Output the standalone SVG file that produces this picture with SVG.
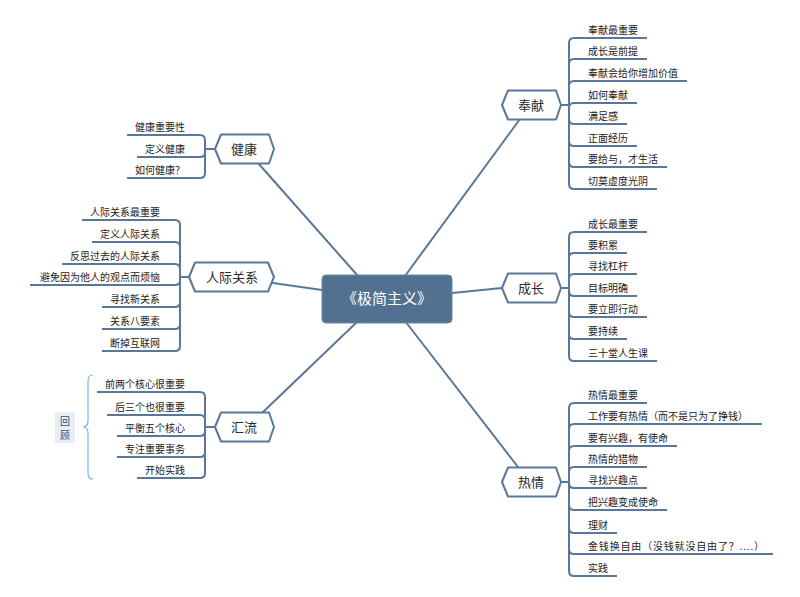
<svg xmlns="http://www.w3.org/2000/svg" width="800" height="597" viewBox="0 0 800 597">
<style>
.bg{fill:#ffffff}
.main{stroke:#58779A;stroke-width:2;fill:none;stroke-linecap:round}
.sub{stroke:#58779A;stroke-width:2;fill:none;stroke-linejoin:round}
.hex{fill:#ffffff;stroke:#58779A;stroke-width:2;stroke-linejoin:round}
.center{fill:#52708F;stroke:#6B87A6;stroke-width:1}
.ct{font-family:"Noto Sans CJK SC","Noto Sans",sans-serif;font-size:15px;fill:#ffffff;text-anchor:middle}
.nt{font-family:"Noto Sans CJK SC","Noto Sans",sans-serif;font-size:13px;fill:#2b2b2b;text-anchor:middle}
.lt{font-family:"Noto Sans CJK SC","Noto Sans",sans-serif;font-size:10px;fill:#222222}
.le{text-anchor:end}
.brace{stroke:#7DB3E6;stroke-width:1.2;fill:none}
.note{fill:#E6EEF7}
.notet{font-family:"Noto Sans CJK SC","Noto Sans",sans-serif;font-size:10px;fill:#2F4F7A;text-anchor:middle}
</style>
<rect class="bg" x="0" y="0" width="800" height="597"/>

<g id="connectors">
  <line class="main" x1="405" y1="276" x2="520" y2="119"/>
  <line class="main" x1="452" y1="293" x2="502" y2="288"/>
  <line class="main" x1="405" y1="321" x2="518" y2="467"/>
  <line class="main" x1="358" y1="276" x2="258" y2="163"/>
  <line class="main" x1="322" y1="290" x2="273" y2="283"/>
  <line class="main" x1="358" y1="321" x2="262" y2="413"/>
</g>

<g id="center">
  <rect class="center" x="322" y="275" width="130" height="48" rx="4"/>
  <text class="ct" x="387" y="304">《极简主义》</text>
</g>

<!-- 奉献 -->
<g id="node-fengxian">
  <polygon class="hex" points="502,105 508,90.5 556,90.5 561,105 556,119.5 508,119.5"/>
  <text class="nt" x="531" y="110">奉献</text>
  <path class="sub" d="M561,105 H569 M569,105 V43 Q569,38 574,38 H647 M569,105 V64 Q569,59 574,59 H647 M569,105 V86 Q569,81 574,81 H687 M569,105 V108 Q569,103 574,103 H637 M569,105 V119 Q569,124 574,124 H627 M569,105 V141 Q569,146 574,146 H637 M569,105 V162 Q569,167 574,167 H667 M569,105 V184 Q569,189 574,189 H657"/>
  <text class="lt" x="588" y="34">奉献最重要</text>
  <text class="lt" x="588" y="55">成长是前提</text>
  <text class="lt" x="588" y="77">奉献会给你增加价值</text>
  <text class="lt" x="588" y="99">如何奉献</text>
  <text class="lt" x="588" y="120">满足感</text>
  <text class="lt" x="588" y="142">正面经历</text>
  <text class="lt" x="588" y="163">要给与，才生活</text>
  <text class="lt" x="588" y="185">切莫虚度光阴</text>
</g>

<!-- 成长 -->
<g id="node-chengzhang">
  <polygon class="hex" points="502,288 508,273.5 556,273.5 561,288 556,302.5 508,302.5"/>
  <text class="nt" x="531" y="293">成长</text>
  <path class="sub" d="M561,288 H569 M569,288 V237 Q569,232 574,232 H647 M569,288 V258 Q569,253 574,253 H627 M569,288 V279 Q569,274 574,274 H637 M569,288 V291 Q569,296 574,296 H637 M569,288 V312 Q569,317 574,317 H647 M569,288 V334 Q569,339 574,339 H627 M569,288 V356 Q569,361 574,361 H657"/>
  <text class="lt" x="588" y="228">成长最重要</text>
  <text class="lt" x="588" y="249">要积累</text>
  <text class="lt" x="588" y="270">寻找杠杆</text>
  <text class="lt" x="588" y="292">目标明确</text>
  <text class="lt" x="588" y="313">要立即行动</text>
  <text class="lt" x="588" y="335">要持续</text>
  <text class="lt" x="588" y="357">三十堂人生课</text>
</g>

<!-- 热情 -->
<g id="node-reqing">
  <polygon class="hex" points="502,482 508,467.5 556,467.5 561,482 556,496.5 508,496.5"/>
  <text class="nt" x="531" y="487">热情</text>
  <path class="sub" d="M561,482 H569 M569,482 V408 Q569,403 574,403 H647 M569,482 V429 Q569,424 574,424 H762 M569,482 V451 Q569,446 574,446 H677 M569,482 V472 Q569,467 574,467 H647 M569,482 V483 Q569,488 574,488 H647 M569,482 V505 Q569,510 574,510 H667 M569,482 V528 Q569,533 574,533 H617 M569,482 V549 Q569,554 574,554 H773 M569,482 V571 Q569,576 574,576 H617"/>
  <text class="lt" x="588" y="399">热情最重要</text>
  <text class="lt" x="588" y="420">工作要有热情（而不是只为了挣钱）</text>
  <text class="lt" x="588" y="442">要有兴趣，有使命</text>
  <text class="lt" x="588" y="463">热情的猎物</text>
  <text class="lt" x="588" y="484">寻找兴趣点</text>
  <text class="lt" x="588" y="506">把兴趣变成使命</text>
  <text class="lt" x="588" y="529">理财</text>
  <text class="lt" x="588" y="550" textLength="176" lengthAdjust="spacing">金钱换自由（没钱就没自由了？....）</text>
  <text class="lt" x="588" y="572">实践</text>
</g>

<!-- 健康 -->
<g id="node-jiankang">
  <polygon class="hex" points="215,149 221,134.5 269,134.5 274,149 269,163.5 221,163.5"/>
  <text class="nt" x="244" y="154">健康</text>
  <path class="sub" d="M215,149 H205 M205,149 V140 Q205,135 200,135 H127 M205,149 V152 Q205,157 200,157 H137 M205,149 V173 Q205,178 200,178 H127"/>
  <text class="lt le" x="185" y="131">健康重要性</text>
  <text class="lt le" x="185" y="153">定义健康</text>
  <text class="lt le" x="185" y="174">如何健康？</text>
</g>

<!-- 人际关系 -->
<g id="node-renji">
  <polygon class="hex" points="189,277 195,262.5 268,262.5 274,277 268,291.5 195,291.5"/>
  <text class="nt" x="232" y="282">人际关系</text>
  <path class="sub" d="M189,277 H180 M180,277 V225 Q180,220 175,220 H82 M180,277 V247 Q180,242 175,242 H92 M180,277 V269 Q180,264 175,264 H62 M180,277 V280 Q180,285 175,285 H30 M180,277 V302 Q180,307 175,307 H102 M180,277 V324 Q180,329 175,329 H102 M180,277 V346 Q180,351 175,351 H102"/>
  <text class="lt le" x="160" y="216">人际关系最重要</text>
  <text class="lt le" x="160" y="238">定义人际关系</text>
  <text class="lt le" x="160" y="260">反思过去的人际关系</text>
  <text class="lt le" x="160" y="281">避免因为他人的观点而烦恼</text>
  <text class="lt le" x="160" y="303">寻找新关系</text>
  <text class="lt le" x="160" y="325">关系八要素</text>
  <text class="lt le" x="160" y="347">断掉互联网</text>
</g>

<!-- 汇流 -->
<g id="node-huiliu">
  <polygon class="hex" points="215,427 221,412.5 269,412.5 274,427 269,441.5 221,441.5"/>
  <text class="nt" x="244" y="432">汇流</text>
  <path class="sub" d="M215,427 H205 M205,427 V397 Q205,392 200,392 H97 M205,427 V420 Q205,415 200,415 H107 M205,427 V431 Q205,436 200,436 H117 M205,427 V452 Q205,457 200,457 H117 M205,427 V473 Q205,478 200,478 H137"/>
  <text class="lt le" x="185" y="388">前两个核心很重要</text>
  <text class="lt le" x="185" y="411">后三个也很重要</text>
  <text class="lt le" x="185" y="432">平衡五个核心</text>
  <text class="lt le" x="185" y="453">专注重要事务</text>
  <text class="lt le" x="185" y="474">开始实践</text>
</g>

<!-- 回顾 summary -->
<g id="summary-huigu">
  <path class="brace" d="M93,375 Q88,375 88,381 V421 Q88,427 83,427 Q88,427 88,433 V473 Q88,479 93,479"/>
  <rect class="note" x="55" y="412" width="20" height="31"/>
  <text class="notet" x="65" y="425">回</text>
  <text class="notet" x="65" y="439">顾</text>
</g>
</svg>
